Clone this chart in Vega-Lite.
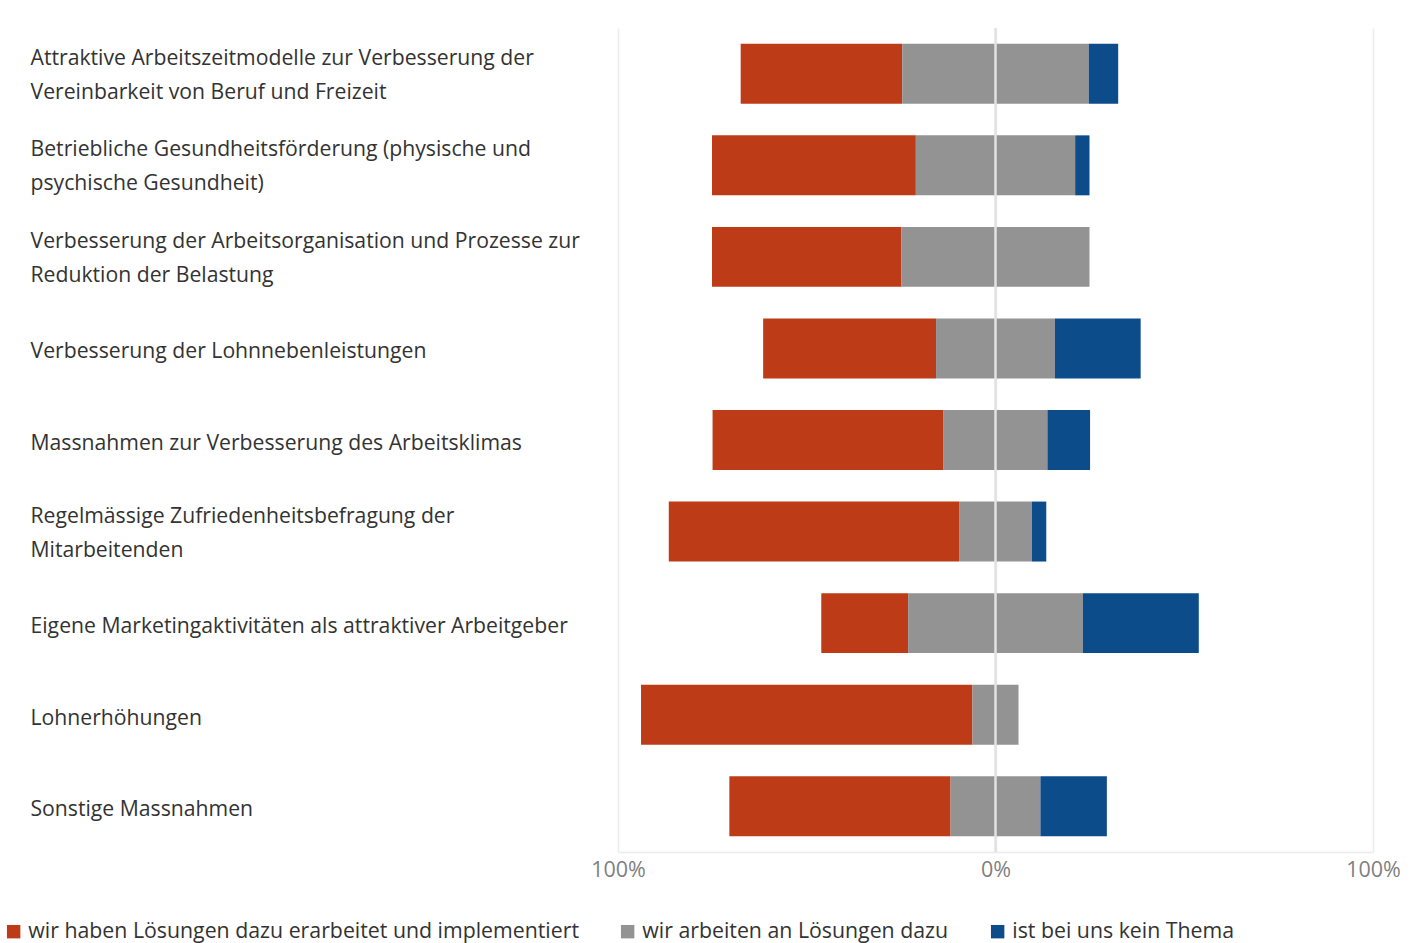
{
  "$schema": "https://vega.github.io/schema/vega-lite/v6.json",
  "autosize": {"type": "none"},
  "width": 755,
  "height": 824,
  "padding": {"left": 618, "top": 28, "right": 48, "bottom": 91},
  "background": "#ffffff",
  "config": {
    "view": {"stroke": null},
    "font": "Open Sans",
    "axis": {"labelFont": "Open Sans", "titleFont": "Open Sans"},
    "legend": {"labelFont": "Open Sans"}
  },
  "datasets": {
    "antworten": [
      {"massnahme": "Attraktive Arbeitszeitmodelle zur Verbesserung der|Vereinbarkeit von Beruf und Freizeit", "antwort": "wir haben Lösungen dazu erarbeitet und implementiert", "anteil": 42.8},
      {"massnahme": "Attraktive Arbeitszeitmodelle zur Verbesserung der|Vereinbarkeit von Beruf und Freizeit", "antwort": "wir arbeiten an Lösungen dazu", "anteil": 49.4},
      {"massnahme": "Attraktive Arbeitszeitmodelle zur Verbesserung der|Vereinbarkeit von Beruf und Freizeit", "antwort": "ist bei uns kein Thema", "anteil": 7.8},
      {"massnahme": "Betriebliche Gesundheitsförderung (physische und|psychische Gesundheit)", "antwort": "wir haben Lösungen dazu erarbeitet und implementiert", "anteil": 54.0},
      {"massnahme": "Betriebliche Gesundheitsförderung (physische und|psychische Gesundheit)", "antwort": "wir arbeiten an Lösungen dazu", "anteil": 42.2},
      {"massnahme": "Betriebliche Gesundheitsförderung (physische und|psychische Gesundheit)", "antwort": "ist bei uns kein Thema", "anteil": 3.8},
      {"massnahme": "Verbesserung der Arbeitsorganisation und Prozesse zur|Reduktion der Belastung", "antwort": "wir haben Lösungen dazu erarbeitet und implementiert", "anteil": 50.2},
      {"massnahme": "Verbesserung der Arbeitsorganisation und Prozesse zur|Reduktion der Belastung", "antwort": "wir arbeiten an Lösungen dazu", "anteil": 49.8},
      {"massnahme": "Verbesserung der Arbeitsorganisation und Prozesse zur|Reduktion der Belastung", "antwort": "ist bei uns kein Thema", "anteil": 0},
      {"massnahme": "Verbesserung der Lohnnebenleistungen", "antwort": "wir haben Lösungen dazu erarbeitet und implementiert", "anteil": 45.8},
      {"massnahme": "Verbesserung der Lohnnebenleistungen", "antwort": "wir arbeiten an Lösungen dazu", "anteil": 31.5},
      {"massnahme": "Verbesserung der Lohnnebenleistungen", "antwort": "ist bei uns kein Thema", "anteil": 22.7},
      {"massnahme": "Massnahmen zur Verbesserung des Arbeitsklimas", "antwort": "wir haben Lösungen dazu erarbeitet und implementiert", "anteil": 61.2},
      {"massnahme": "Massnahmen zur Verbesserung des Arbeitsklimas", "antwort": "wir arbeiten an Lösungen dazu", "anteil": 27.5},
      {"massnahme": "Massnahmen zur Verbesserung des Arbeitsklimas", "antwort": "ist bei uns kein Thema", "anteil": 11.3},
      {"massnahme": "Regelmässige Zufriedenheitsbefragung der|Mitarbeitenden", "antwort": "wir haben Lösungen dazu erarbeitet und implementiert", "anteil": 76.9},
      {"massnahme": "Regelmässige Zufriedenheitsbefragung der|Mitarbeitenden", "antwort": "wir arbeiten an Lösungen dazu", "anteil": 19.3},
      {"massnahme": "Regelmässige Zufriedenheitsbefragung der|Mitarbeitenden", "antwort": "ist bei uns kein Thema", "anteil": 3.8},
      {"massnahme": "Eigene Marketingaktivitäten als attraktiver Arbeitgeber", "antwort": "wir haben Lösungen dazu erarbeitet und implementiert", "anteil": 23.0},
      {"massnahme": "Eigene Marketingaktivitäten als attraktiver Arbeitgeber", "antwort": "wir arbeiten an Lösungen dazu", "anteil": 46.3},
      {"massnahme": "Eigene Marketingaktivitäten als attraktiver Arbeitgeber", "antwort": "ist bei uns kein Thema", "anteil": 30.7},
      {"massnahme": "Lohnerhöhungen", "antwort": "wir haben Lösungen dazu erarbeitet und implementiert", "anteil": 87.8},
      {"massnahme": "Lohnerhöhungen", "antwort": "wir arbeiten an Lösungen dazu", "anteil": 12.2},
      {"massnahme": "Lohnerhöhungen", "antwort": "ist bei uns kein Thema", "anteil": 0},
      {"massnahme": "Sonstige Massnahmen", "antwort": "wir haben Lösungen dazu erarbeitet und implementiert", "anteil": 58.6},
      {"massnahme": "Sonstige Massnahmen", "antwort": "wir arbeiten an Lösungen dazu", "anteil": 23.8},
      {"massnahme": "Sonstige Massnahmen", "antwort": "ist bei uns kein Thema", "anteil": 17.6}
    ],
    "nulllinie": [{"wert": 0}]
  },
  "layer": [
    {
      "data": {"name": "antworten"},
      "transform": [
        {"calculate": "indexof(['wir haben Lösungen dazu erarbeitet und implementiert', 'wir arbeiten an Lösungen dazu', 'ist bei uns kein Thema'], datum.antwort)", "as": "rang"},
        {"window": [{"op": "sum", "field": "anteil", "as": "bis"}], "groupby": ["massnahme"], "sort": [{"field": "rang"}], "frame": [null, 0]},
        {"calculate": "datum.bis - datum.anteil", "as": "von"},
        {"calculate": "datum.rang === 0 ? datum.anteil : (datum.rang === 1 ? datum.anteil / 2 : 0)", "as": "linksteil"},
        {"joinaggregate": [{"op": "sum", "field": "linksteil", "as": "verschiebung"}], "groupby": ["massnahme"]},
        {"calculate": "datum.von - datum.verschiebung", "as": "x_start"},
        {"calculate": "datum.bis - datum.verschiebung", "as": "x_ende"}
      ],
      "mark": {"type": "bar"},
      "encoding": {
        "y": {
          "field": "massnahme",
          "type": "nominal",
          "sort": null,
          "scale": {"paddingInner": 0.345, "paddingOuter": 0.1725},
          "axis": {
            "title": null,
            "domain": false,
            "ticks": false,
            "grid": false,
            "labelAlign": "left",
            "labelBaseline": "middle",
            "labelPadding": 588,
            "labelLimit": 600,
            "labelFontSize": 21.2,
            "labelColor": "#333333",
            "labelLineHeight": 34,
            "labelOffset": {"condition": {"test": "indexof(datum.value, '|') >= 0", "value": -15}, "value": 4},
            "labelExpr": "split(datum.label, '|')"
          }
        },
        "x": {
          "field": "x_start",
          "type": "quantitative",
          "scale": {"domain": [-100, 100], "nice": false, "zero": false},
          "axis": {
            "title": null,
            "values": [-100, 0, 100],
            "labelExpr": "abs(datum.value) + '%'",
            "ticks": false,
            "domain": true,
            "domainColor": "#ececec",
            "domainWidth": 1.5,
            "grid": true,
            "gridColor": "#ececec",
            "gridWidth": 1.5,
            "labelFontSize": 21.5,
            "labelColor": "#7f7f7f",
            "labelPadding": 7,
            "labelFlush": false,
            "labelOverlap": false,
            "labelBound": false
          }
        },
        "x2": {"field": "x_ende"},
        "color": {
          "field": "antwort",
          "type": "nominal",
          "sort": ["wir haben Lösungen dazu erarbeitet und implementiert", "wir arbeiten an Lösungen dazu", "ist bei uns kein Thema"],
          "scale": {
            "domain": ["wir haben Lösungen dazu erarbeitet und implementiert", "wir arbeiten an Lösungen dazu", "ist bei uns kein Thema"],
            "range": ["#bd3c17", "#939393", "#0c4c8a"]
          },
          "legend": {
            "title": null,
            "orient": "none",
            "direction": "horizontal",
            "legendX": -615,
            "legendY": 893,
            "padding": 0,
            "symbolType": "square",
            "symbolSize": 180,
            "symbolStrokeWidth": 0,
            "labelFontSize": 21.3,
            "labelColor": "#333333",
            "labelOffset": 4,
            "columnPadding": 38,
            "labelLimit": 700
          }
        },
        "order": {"field": "rang"}
      }
    },
    {
      "data": {"name": "nulllinie"},
      "mark": {"type": "rule", "color": "#e2e2e2", "strokeWidth": 2.5},
      "encoding": {
        "x": {"field": "wert", "type": "quantitative"}
      }
    }
  ]
}
